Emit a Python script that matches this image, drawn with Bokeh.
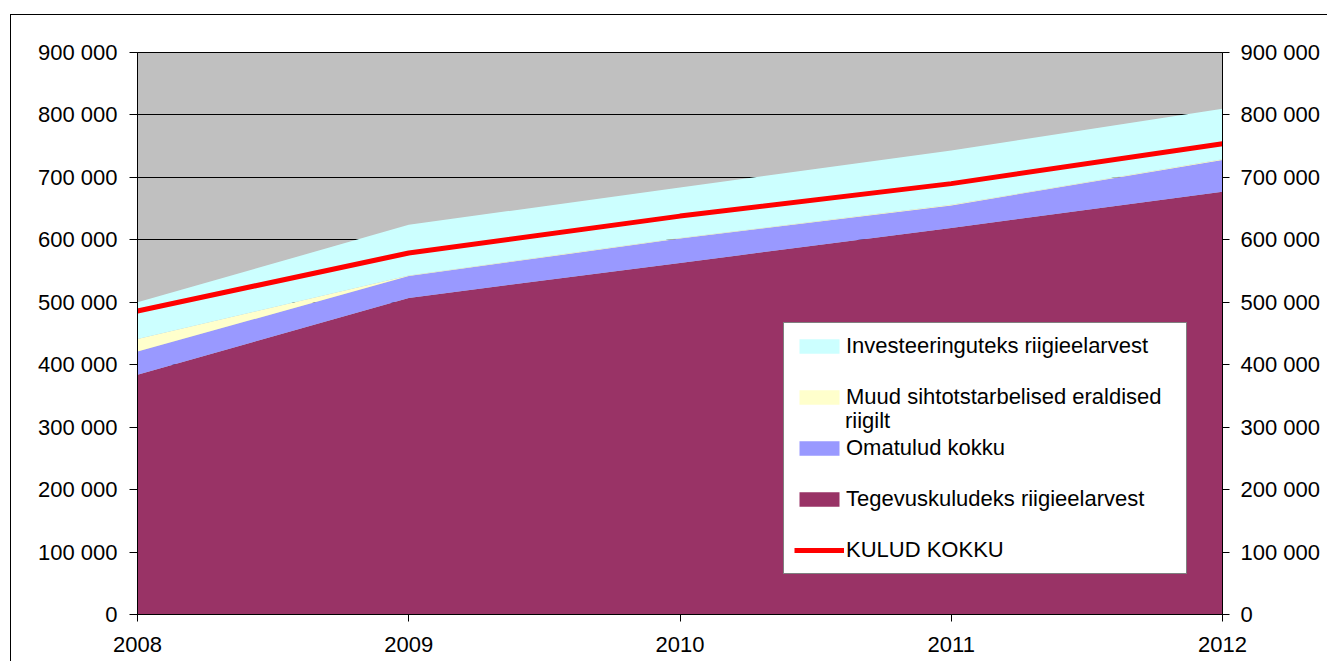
from bokeh.plotting import figure
from bokeh.models import (ColumnDataSource, Range1d, FixedTicker, LinearAxis,
                          Legend, LegendItem)
from bokeh.embed import file_html
from bokeh.resources import INLINE

# ---- data ----
years = [2008, 2009, 2010, 2011, 2012]
tegevuskulud = [384000, 507000, 563000, 619000, 677000]
omatulud = [37000, 35000, 39000, 36000, 51000]
muud_eraldised = [20000, 1000, 1000, 1000, 1000]
investeeringud = [59000, 81000, 81000, 87000, 81000]
kulud_kokku = [486000, 579000, 638000, 690000, 754000]

y_ticks = [0, 100000, 200000, 300000, 400000, 500000, 600000, 700000, 800000, 900000]
y_tick_labels = ["0", "100 000", "200 000", "300 000", "400 000", "500 000",
                 "600 000", "700 000", "800 000", "900 000"]
x_tick_labels = ["2008", "2009", "2010", "2011", "2012"]

name_tegevus = "Tegevuskuludeks riigieelarvest"
name_omatulud = "Omatulud kokku"
name_muud_1 = "Muud sihtotstarbelised eraldised"
name_muud_2 = "riigilt"
name_invest = "Investeeringuteks riigieelarvest"
name_kulud = "KULUD KOKKU"

area_colors = ["#993366", "#9999FF", "#FFFFCC", "#CCFFFF"]
line_color = "#FF0000"
FONT = "Liberation Sans"

src = ColumnDataSource(dict(year=years, tegevus=tegevuskulud, omatulud=omatulud,
                            muud=muud_eraldised, invest=investeeringud,
                            kulud=kulud_kokku))

p = figure(width=1317, height=647, output_backend="svg", toolbar_location=None,
           x_range=Range1d(2008, 2012), y_range=Range1d(0, 900000),
           min_border_left=126, min_border_right=106, min_border_top=37,
           min_border_bottom=48, margin=(14, 0, 0, 10),
           styles={"border-left": "1px solid black", "border-top": "1px solid black"})

p.background_fill_color = "#C0C0C0"
p.border_fill_color = "white"
p.outline_line_color = "black"

areas = p.varea_stack(["tegevus", "omatulud", "muud", "invest"], x="year",
                      color=area_colors, source=src)
kline = p.line("year", "kulud", source=src, line_color=line_color, line_width=5)

y_labels = {t: l for t, l in zip(y_ticks, y_tick_labels)}
x_labels = {t: l for t, l in zip(years, x_tick_labels)}

def style_axis(ax, tick_out, standoff):
    ax.axis_line_color = "black"
    ax.major_tick_line_color = "black"
    ax.minor_tick_line_color = None
    ax.major_tick_in = 0
    ax.major_tick_out = tick_out
    ax.major_label_text_font = FONT
    ax.major_label_text_font_size = "22px"
    ax.major_label_text_color = "black"
    ax.major_label_standoff = standoff

p.yaxis.ticker = FixedTicker(ticks=y_ticks)
p.yaxis.major_label_overrides = y_labels
style_axis(p.yaxis[0], 8, 12)

p.xaxis.ticker = FixedTicker(ticks=years)
p.xaxis.major_label_overrides = x_labels
style_axis(p.xaxis[0], 7, 15)

ry = LinearAxis(ticker=FixedTicker(ticks=y_ticks), major_label_overrides=y_labels)
style_axis(ry, 7, 11)
p.add_layout(ry, "right")

p.ygrid.ticker = FixedTicker(ticks=y_ticks)
p.ygrid.grid_line_color = "black"
p.ygrid.grid_line_width = 1
p.xgrid.visible = False

legend_style = dict(orientation="vertical", margin=0, label_height=24,
                    glyph_height=18, glyph_width=50, label_standoff=2,
                    label_text_font=FONT, label_text_font_size="22px",
                    label_text_color="black")

legend = Legend(items=[
    LegendItem(label=name_invest, renderers=[areas[3]]),
    LegendItem(label=name_muud_1, renderers=[areas[2]]),
    LegendItem(label=name_omatulud, renderers=[areas[1]]),
    LegendItem(label=name_tegevus, renderers=[areas[0]]),
    LegendItem(label=name_kulud, renderers=[kline]),
], location=(646, 40), padding=10, spacing=25, label_width=330,
    background_fill_color="white", background_fill_alpha=1.0,
    border_line_color="black", border_line_width=1, **legend_style)
p.add_layout(legend, "center")

# second line of the wrapped legend label
legend2 = Legend(items=[LegendItem(label=name_muud_2, renderers=[])],
                 location=(656, 180), padding=0, spacing=0,
                 background_fill_alpha=0.0, border_line_color=None,
                 **legend_style)
p.add_layout(legend2, "center")

open("out.html", "w").write(file_html(p, INLINE))
